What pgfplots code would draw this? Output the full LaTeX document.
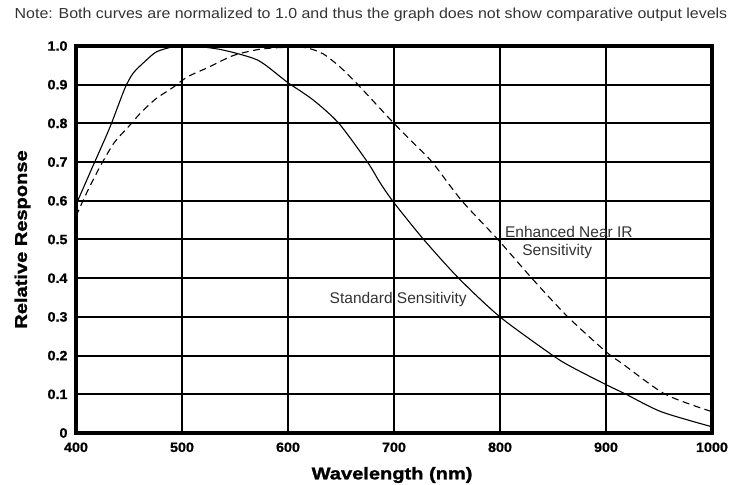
\documentclass[border=0pt]{standalone}
\usepackage{fontspec}
\usepackage{pgfplots}
\pgfplotsset{compat=1.18}
\setmainfont{Liberation Sans}
\newfontfamily\blackfont[FakeStretch=1.18, BoldFeatures={FakeBold=1.5}]{Liberation Sans}
\newfontfamily\tickfont[FakeStretch=1.06, BoldFeatures={FakeBold=1}]{Liberation Sans}
\newfontfamily\notefont[FakeStretch=1.1]{Liberation Sans}
\definecolor{txt}{HTML}{333333}
\begin{document}
\begin{tikzpicture}
\begin{axis}[
  scale only axis,
  width=636bp, height=387bp,
  xmin=400, xmax=1000, ymin=0, ymax=1,
  xtick={400,500,600,700,800,900,1000},
  xticklabels={400,500,600,700,800,900,1000},
  ytick={0,0.1,0.2,0.3,0.4,0.5,0.6,0.7,0.8,0.9,1.0},
  yticklabels={0,0.1,0.2,0.3,0.4,0.5,0.6,0.7,0.8,0.9,1.0},
  xticklabel style={font=\tickfont\bfseries\fontsize{13.5bp}{15bp}\selectfont, yshift=-6bp},
  yticklabel style={font=\tickfont\bfseries\fontsize{13.5bp}{15bp}\selectfont, xshift=-5bp},
  major tick length=0pt,
  grid=major,
  major grid style={black, line width=2bp},
  axis line style={line width=4.5bp},
  xlabel={Wavelength (nm)},
  ylabel={Relative Response},
  xlabel style={font=\blackfont\bfseries\fontsize{17bp}{19bp}\selectfont, at={(axis description cs:0.497,-0.1085)}, anchor=center},
  ylabel style={font=\blackfont\bfseries\fontsize{17bp}{19bp}\selectfont, at={(axis description cs:-0.0841,0.5)}, anchor=center},
  clip=false,
]
\addplot[black, line width=1.1bp, smooth, tension=0.45] coordinates {
(400,0.59) (416,0.69) (432,0.79) (446,0.89) (454,0.93) (465,0.96) (476,0.985)
(492,0.998) (510,1.0) (538,0.99) (571,0.964) (593,0.92) (600,0.905) (624,0.86)
(648,0.80) (675,0.70) (687,0.646) (700,0.595) (728,0.50) (761,0.40) (800,0.30)
(850,0.20) (868,0.17) (900,0.125) (919,0.10) (952,0.055) (1000,0.016)
};
\addplot[black, line width=1.1bp, smooth, tension=0.45, dash pattern=on 7bp off 4.5bp] coordinates {
(400,0.56) (410,0.62) (423,0.69) (436,0.75) (449,0.79) (462,0.83) (476,0.865)
(490,0.89) (505,0.92) (525,0.945) (548,0.975) (570,0.99) (586,0.995) (605,0.997)
(618,0.995) (633,0.98) (649,0.946) (666,0.90) (683,0.85) (700,0.80) (718,0.75)
(736,0.70) (764,0.60) (798,0.50) (830,0.40) (864,0.30) (900,0.21) (915,0.18)
(956,0.10) (1000,0.055)
};
\node[txt, font=\fontsize{15.5bp}{17bp}\selectfont, inner sep=1bp] at (axis cs:865,0.52) {Enhanced Near IR};
\node[txt, font=\fontsize{15.5bp}{17bp}\selectfont, inner sep=1bp] at (axis cs:854,0.468) {Sensitivity};
\node[txt, font=\fontsize{15.5bp}{17bp}\selectfont, inner sep=1bp] at (axis cs:704,0.344) {Standard Sensitivity};
\node[txt, font=\notefont\fontsize{14.5bp}{16bp}\selectfont, anchor=center] at ([xshift=-23bp,yshift=31bp]rel axis cs:0.5,1) {Note: Both curves are normalized to 1.0 and thus the graph does not show comparative output levels};
\coordinate (sw) at (rel axis cs:0,0);
\end{axis}
\pgfresetboundingbox
\path[use as bounding box] ([xshift=-76bp,yshift=-52bp]sw) rectangle ([xshift=663bp,yshift=433bp]sw);
\end{tikzpicture}
\end{document}
